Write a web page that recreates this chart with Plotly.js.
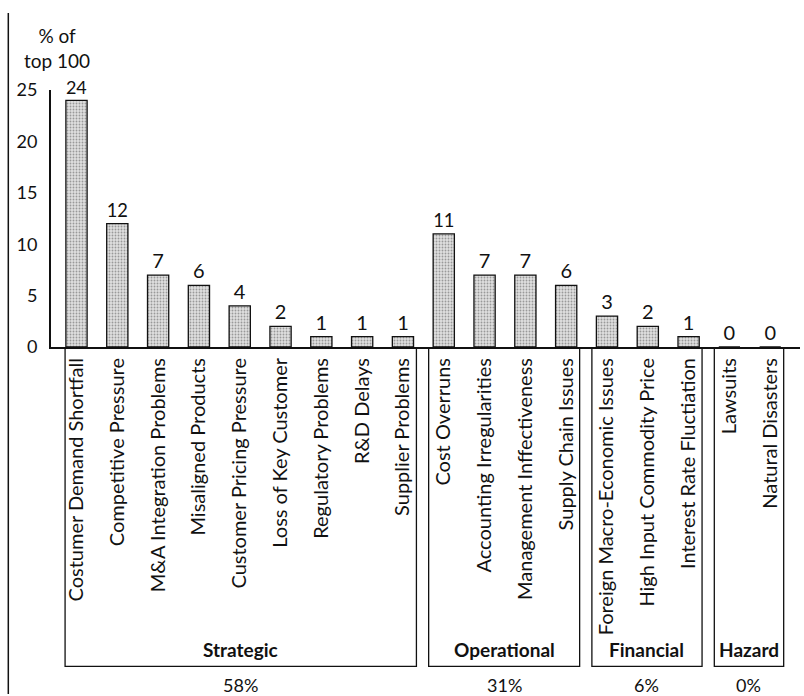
<!DOCTYPE html>
<html>
<head>
<meta charset="utf-8">
<script src="https://cdn.plot.ly/plotly-3.0.1.min.js"></script>
<style>html,body{margin:0;padding:0;background:#fff;}#chart{width:804px;height:696px;}</style>
</head>
<body>
<div id="chart"></div>
<script>
var categories = ["Costumer Demand Shortfall","Competitive Pressure","M&A Integration Problems","Misaligned Products","Customer Pricing Pressure","Loss of Key Customer","Regulatory Problems","R&D Delays","Supplier Problems","Cost Overruns","Accounting Irregularities","Management Inffectiveness","Supply Chain Issues","Foreign Macro-Economic Issues","High Input Commodity Price","Interest Rate Fluctiation","Lawsuits","Natural Disasters"];
var values = [24,12,7,6,4,2,1,1,1,11,7,7,6,3,2,1,0,0];
var groupNames = ["Strategic","Operational","Financial","Hazard"];
var groupShares = ["58%","31%","6%","0%"];
var groupStart = [0,9,13,16];
var groupEnd = [8,12,15,17];
var yTicks = [0,5,10,15,20,25];

var FONT = "Lato, 'Open Sans', sans-serif";
var x = categories.map(function(c,i){return i;});

var trace = {
  type: 'bar',
  x: x,
  y: values,
  text: values.map(String),
  textposition: 'outside',
  cliponaxis: false,
  textfont: {family: FONT, size: 20, color: '#111'},
  marker: {
    color: '#d8d8d8',
    line: {color: '#111', width: 1.3},
    pattern: {shape: '.', fgcolor: '#999', bgcolor: '#e0e0e0', size: 3, solidity: 0.3}
  },
  hoverinfo: 'none'
};

var shapes = [];
var annotations = [];
// left frame line
shapes.push({type:'line', xref:'paper', yref:'paper', x0:-0.057, x1:-0.057, y0:1.3, y1:-1.35, line:{color:'#111', width:1.5}});
for (var g = 0; g < groupNames.length; g++) {
  var x0 = groupStart[g] - 0.37, x1 = groupEnd[g] + 0.33;
  if (g === 0) x0 = groupStart[g] - 0.28;
  shapes.push({type:'rect', xref:'x', yref:'paper', x0:x0, x1:x1, y0:-0.004, y1:-1.243, line:{color:'#111', width:1.3}});
  annotations.push({xref:'x', yref:'paper', x:(x0+x1)/2, y:-1.177, text:'<b>'+groupNames[g]+'</b>', showarrow:false, font:{family:FONT, size:19, color:'#111'}, yanchor:'middle'});
  annotations.push({xref:'x', yref:'paper', x:(x0+x1)/2, y:-1.316, text:groupShares[g], showarrow:false, font:{family:FONT, size:18, color:'#111'}, yanchor:'middle'});
}
annotations.push({xref:'paper', yref:'paper', x:0.008, y:1.165, text:'% of<br>top 100', showarrow:false, align:'center', font:{family:FONT, size:19, color:'#111'}, xanchor:'center', yanchor:'middle'});

var layout = {
  width: 804, height: 696,
  margin: {l:51, r:4, t:89.5, b:349},
  paper_bgcolor: '#fff', plot_bgcolor: '#fff',
  showlegend: false,
  bargap: 0.48,
  xaxis: {
    range: [-0.625, 17.73],
    tickmode: 'array', tickvals: x, ticktext: categories,
    tickangle: -90,
    ticks: '',
    showgrid: false, zeroline: false,
    showline: true, linecolor: '#111', linewidth: 2,
    tickfont: {family: FONT, size: 20, color: '#111'},
    ticklabelstandoff: 1,
    fixedrange: true
  },
  yaxis: {
    range: [0, 25],
    tickmode: 'array', tickvals: yTicks, ticktext: yTicks.map(String),
    ticks: '',
    showgrid: false, zeroline: false,
    showline: true, linecolor: '#111', linewidth: 2,
    tickfont: {family: FONT, size: 18, color: '#111'},
    ticklabelstandoff: 8,
    fixedrange: true
  },
  shapes: shapes,
  annotations: annotations
};

Plotly.newPlot('chart', [trace], layout, {displayModeBar:false, staticPlot:true});
</script>
</body>
</html>
